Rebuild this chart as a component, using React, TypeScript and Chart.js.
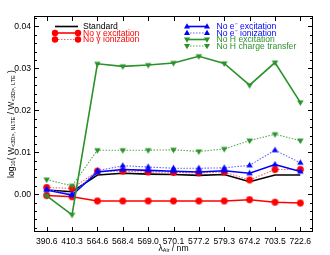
import React, { useEffect, useRef } from "react";
import { Chart, registerables } from "chart.js";
Chart.register(...registerables);

const labels = ["390.6", "410.3", "564.6", "568.4", "569.0", "570.1", "577.2", "579.3", "674.2", "703.5", "722.6"];
const standard = [0.0010, 0.0006, 0.0046, 0.0050, 0.0048, 0.0047, 0.0045, 0.0047, 0.0030, 0.0046, 0.0046];
const noGammaExc = [-0.0003, -0.0006, -0.0016, -0.0016, -0.0016, -0.0016, -0.0016, -0.0016, -0.0013, -0.0019, -0.0021];
const noGammaIon = [0.0016, 0.0014, 0.0055, 0.0055, 0.0053, 0.0052, 0.0051, 0.0053, 0.0034, 0.0059, 0.0059];
const noEExc = [0.0010, -0.0002, 0.0053, 0.0059, 0.0057, 0.0055, 0.0053, 0.0056, 0.0050, 0.0071, 0.0054];
const noEIon = [0.0012, 0.0000, 0.0056, 0.0068, 0.0065, 0.0062, 0.0062, 0.0063, 0.0069, 0.0105, 0.0075];
const noHExc = [-0.0004, -0.0049, 0.0311, 0.0305, 0.0308, 0.0313, 0.0329, 0.0312, 0.0260, 0.0314, 0.0219];
const noHCT = [0.0035, 0.0020, 0.0105, 0.0105, 0.0105, 0.0106, 0.0102, 0.0108, 0.0128, 0.0143, 0.0128];
const yTicks = [0.0, 0.01, 0.02, 0.03, 0.04];

const FONT = "'Liberation Sans', Arial, sans-serif";
const GREEN = "#2a922a";
const GREEN_L = "#55aa55";

type Entry = { label: string; color: string; textColor: string; dash: number[]; width: number; marker: string | false };
const entries: Entry[] = [
  { label: "Standard", color: "#000000", textColor: "#000000", dash: [], width: 1.6, marker: false },
  { label: "No γ excitation", color: "#ff0000", textColor: "#ff0000", dash: [], width: 1.6, marker: "circle" },
  { label: "No γ ionization", color: "#ff6060", textColor: "#ff0000", dash: [1.5, 1.5], width: 1.1, marker: "circle" },
  { label: "No e⁻ excitation", color: "#0000ff", textColor: "#0000ff", dash: [], width: 1.6, marker: "triangle" },
  { label: "No e⁻ ionization", color: "#6060ff", textColor: "#0000ff", dash: [1.5, 1.5], width: 1.1, marker: "triangle" },
  { label: "No H excitation", color: GREEN, textColor: GREEN, dash: [], width: 1.6, marker: "triangleDown" },
  { label: "No H charge transfer", color: GREEN_L, textColor: GREEN, dash: [1.5, 1.5], width: 1.1, marker: "triangleDown" },
];
const series = [standard, noGammaExc, noGammaIon, noEExc, noEIon, noHExc, noHCT];
const markerColors = ["#000", "#ff0000", "#ff0000", "#0000ff", "#0000ff", GREEN, GREEN];

function drawMarker(ctx: CanvasRenderingContext2D, kind: string, x: number, y: number, r: number, color: string) {
  ctx.save();
  ctx.fillStyle = color;
  ctx.beginPath();
  if (kind === "circle") {
    ctx.arc(x, y, r, 0, Math.PI * 2);
  } else if (kind === "triangle") {
    ctx.moveTo(x, y - r);
    ctx.lineTo(x + r * 0.95, y + r * 0.6);
    ctx.lineTo(x - r * 0.95, y + r * 0.6);
    ctx.closePath();
  } else {
    ctx.moveTo(x, y + r);
    ctx.lineTo(x + r * 0.95, y - r * 0.6);
    ctx.lineTo(x - r * 0.95, y - r * 0.6);
    ctx.closePath();
  }
  ctx.fill();
  ctx.restore();
}

function makeMarkerCanvas(kind: string, color: string, r: number) {
  const c = document.createElement("canvas");
  const s = Math.ceil(r * 2 + 2);
  c.width = s;
  c.height = s;
  const ctx = c.getContext("2d")!;
  drawMarker(ctx, kind, s / 2, s / 2, r, color);
  return c;
}

const decorPlugin = {
  id: "decor",
  afterDraw(chart: any) {
    const ctx: CanvasRenderingContext2D = chart.ctx;
    const a = chart.chartArea;
    const ys = chart.scales.y;
    const xs = chart.scales.x;
    ctx.save();
    ctx.strokeStyle = "#000";
    ctx.lineWidth = 1;
    ctx.strokeRect(Math.round(a.left) + 0.5, Math.round(a.top) + 0.5, Math.round(a.right - a.left) - 1, Math.round(a.bottom - a.top) - 1);
    ctx.beginPath();
    for (let k = -4; k <= 21; k++) {
      const v = k * 0.002;
      if (v < ys.min || v > ys.max) continue;
      const py = Math.round(ys.getPixelForValue(v)) + 0.5;
      const len = k % 5 === 0 ? 5 : 3;
      ctx.moveTo(a.left, py);
      ctx.lineTo(a.left + len, py);
      ctx.moveTo(a.right, py);
      ctx.lineTo(a.right - len, py);
    }
    for (let i = 0; i < labels.length; i++) {
      const px = Math.round(xs.getPixelForValue(i)) + 0.5;
      ctx.moveTo(px, a.bottom);
      ctx.lineTo(px, a.bottom - 5);
      ctx.moveTo(px, a.top);
      ctx.lineTo(px, a.top + 5);
    }
    ctx.stroke();

    // legend
    const rows = [
      { e: 0, x1: 55, x2: 78, tx: 83, y: 26.5 },
      { e: 1, x1: 55, x2: 78, tx: 83, y: 33 },
      { e: 2, x1: 55, x2: 78, tx: 83, y: 39.5 },
      { e: 3, x1: 187, x2: 207, tx: 216.5, y: 26.5 },
      { e: 4, x1: 187, x2: 207, tx: 216.5, y: 33 },
      { e: 5, x1: 187, x2: 207, tx: 216.5, y: 39.5 },
      { e: 6, x1: 187, x2: 207, tx: 216.5, y: 46 },
    ];
    ctx.font = `8.6px ${FONT}`;
    ctx.textBaseline = "middle";
    ctx.textAlign = "left";
    for (const r of rows) {
      const en = entries[r.e];
      ctx.save();
      ctx.strokeStyle = en.color;
      ctx.lineWidth = en.width;
      ctx.setLineDash(en.dash);
      ctx.beginPath();
      ctx.moveTo(r.x1, r.y);
      ctx.lineTo(r.x2, r.y);
      ctx.stroke();
      ctx.restore();
      if (en.marker) {
        drawMarker(ctx, en.marker, r.x1, r.y, 3.2, markerColors[r.e]);
        drawMarker(ctx, en.marker, r.x2, r.y, 3.2, markerColors[r.e]);
      }
      ctx.fillStyle = en.textColor;
      ctx.fillText(en.label, r.tx, r.y + 0.5);
    }

    // titles
    ctx.fillStyle = "#000";
    ctx.textAlign = "left";
    ctx.textBaseline = "middle";
    const big = `8.6px ${FONT}`;
    const small = `5.5px ${FONT}`;
    const measure = (parts: [string, boolean][]) => {
      let s = 0;
      for (const [t, sub] of parts) {
        ctx.font = sub ? small : big;
        s += ctx.measureText(t).width;
      }
      return s;
    };
    const drawParts = (parts: [string, boolean][], x0: number, y0: number) => {
      let x = x0;
      for (const [t, sub] of parts) {
        ctx.font = sub ? small : big;
        ctx.fillText(t, x, sub ? y0 + 2 : y0);
        x += ctx.measureText(t).width;
      }
    };
    const xParts: [string, boolean][] = [["λ", false], ["Air", true], [" / nm", false]];
    const xw = measure(xParts);
    drawParts(xParts, (a.left + a.right) / 2 - xw / 2, 248.5);

    const yParts: [string, boolean][] = [
      ["log", false], ["10", true], ["( W", false], ["<3D>, NLTE", true], [" / W", false], ["<3D>, LTE", true], [" )", false],
    ];
    const yw = measure(yParts);
    ctx.save();
    ctx.translate(11.5, (a.top + a.bottom) / 2);
    ctx.rotate(-Math.PI / 2);
    drawParts(yParts, -yw / 2, 0);
    ctx.restore();
    ctx.restore();
  },
};

export default function App() {
  const ref = useRef<HTMLCanvasElement>(null);
  useEffect(() => {
    const datasets = entries.map((en, i) => ({
      label: en.label,
      data: series[i],
      borderColor: en.color,
      backgroundColor: markerColors[i],
      borderWidth: en.width,
      borderDash: en.dash,
      pointStyle: en.marker ? (makeMarkerCanvas(en.marker, markerColors[i], 3.4) as any) : "circle",
      pointRadius: en.marker ? 3.4 : 0,
      tension: 0,
      fill: false,
      order: entries.length - i,
    }));
    const chart = new Chart(ref.current!, {
      type: "line",
      data: { labels, datasets },
      plugins: [decorPlugin],
      options: {
        animation: false,
        responsive: false,
        devicePixelRatio: 1,
        layout: { padding: { top: 16, right: 17, left: 0, bottom: 0 } },
        plugins: { legend: { display: false }, tooltip: { enabled: false } },
        scales: {
          x: {
            type: "category",
            offset: true,
            grid: { display: false, drawTicks: false, tickLength: 0 },
            border: { display: false },
            ticks: { color: "#000", font: { family: FONT, size: 8.6 }, padding: 4, maxRotation: 0, autoSkip: false },
            afterFit: (s: any) => { s.height = 23; },
          },
          y: {
            min: -0.009,
            max: 0.0425,
            grid: { display: false, drawTicks: false, tickLength: 0 },
            border: { display: false },
            ticks: { color: "#000", font: { family: FONT, size: 8.6 }, padding: 3, callback: (v: any) => Number(v).toFixed(2) },
            afterBuildTicks: (s: any) => { s.ticks = yTicks.map((v) => ({ value: v })); },
            afterFit: (s: any) => { s.width = 34; },
          },
        },
      },
    });
    return () => chart.destroy();
  }, []);
  return (
    <div style={{ position: "fixed", left: 0, top: 0, width: 330, height: 255, background: "#fff" }}>
      <canvas ref={ref} width={330} height={255} style={{ width: 330, height: 255, display: "block" }} />
    </div>
  );
}
